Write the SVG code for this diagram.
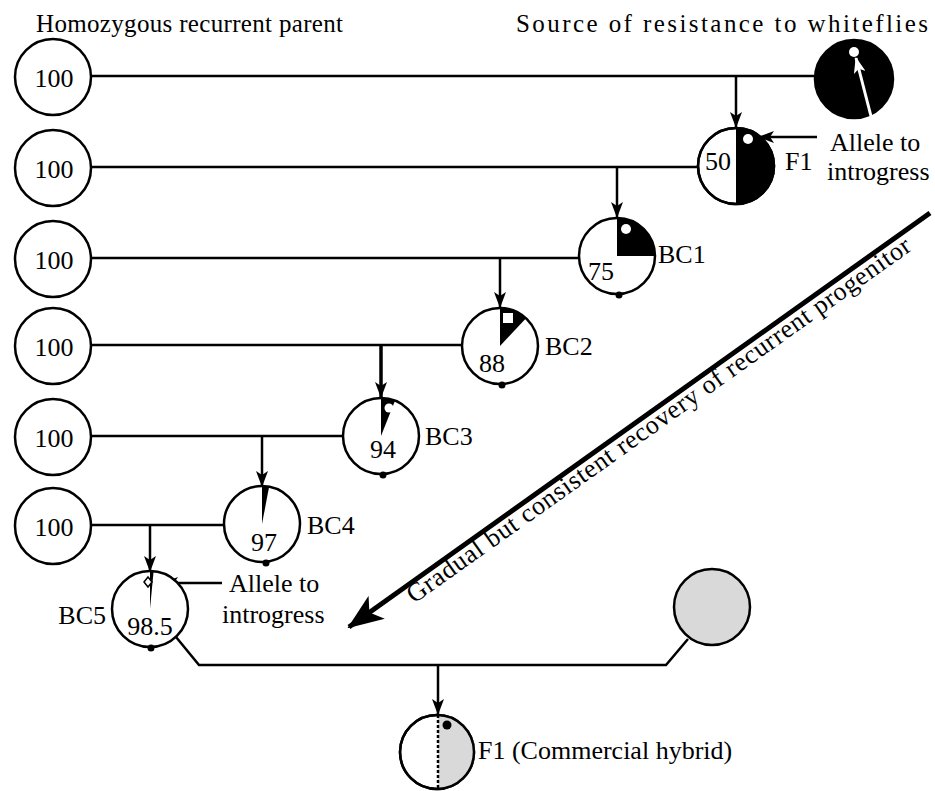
<svg xmlns="http://www.w3.org/2000/svg" width="935" height="791" viewBox="0 0 935 791" font-family="'Liberation Serif','Times New Roman',serif">
<style>
text{font-family:"Liberation Serif","Times New Roman",serif;font-size:26px;fill:#000}
.hdr{font-size:25px}
.c{fill:#fff;stroke:#000;stroke-width:2.5}
.blk{fill:#000}
.ln{fill:none;stroke:#000;stroke-width:2.5}
.arr{fill:none;stroke:#000;stroke-width:2.5;marker-end:url(#ah)}
.mid{text-anchor:middle}
.grey{fill:#d9d9d9}
</style>
<defs>
<marker id="ah" markerUnits="userSpaceOnUse" markerWidth="16" markerHeight="12" refX="15" refY="6" orient="auto">
<path d="M0,0 L16,6 L0,12 L4,6 Z" fill="#000"/>
</marker>
<marker id="ahw" markerUnits="userSpaceOnUse" markerWidth="16" markerHeight="12" refX="15" refY="6" orient="auto">
<path d="M0,0 L16,6 L0,12 L4,6 Z" fill="#fff"/>
</marker>
<marker id="ahb" markerUnits="userSpaceOnUse" markerWidth="36" markerHeight="28" refX="34" refY="14" orient="auto">
<path d="M0,0 L36,14 L0,28 L9,14 Z" fill="#000"/>
</marker>
</defs>

<text class="hdr" x="36" y="32" textLength="307" lengthAdjust="spacing">Homozygous recurrent parent</text>
<text class="hdr" x="516" y="32" textLength="412" lengthAdjust="spacing">Source of resistance to whiteflies</text>

<g id="connectors">
<line class="ln" x1="91" y1="76" x2="815" y2="76"/>
<line class="arr" x1="736" y1="76" x2="736" y2="127"/>
<line class="ln" x1="91" y1="167" x2="698" y2="167"/>
<line class="arr" x1="617" y1="167" x2="617" y2="217"/>
<line class="ln" x1="91" y1="258" x2="579" y2="258"/>
<line class="arr" x1="500" y1="258" x2="500" y2="307"/>
<line class="ln" x1="91" y1="345" x2="462" y2="345"/>
<line class="arr" x1="381" y1="345" x2="381" y2="397" style="stroke-width:3.5"/>
<line class="ln" x1="91" y1="436" x2="343" y2="436"/>
<line class="arr" x1="262" y1="436" x2="262" y2="486"/>
<line class="ln" x1="91" y1="525" x2="224" y2="525"/>
<line class="arr" x1="150" y1="525" x2="150" y2="571"/>
<polyline class="ln" points="176,637 199,665 666,665 688,639"/>
<line class="arr" x1="438" y1="665" x2="438" y2="714"/>
<line class="arr" x1="817" y1="137" x2="759" y2="137"/>
<line class="arr" x1="222" y1="583" x2="163" y2="583"/>
<line x1="930" y1="213" x2="349" y2="627" stroke="#000" stroke-width="5" marker-end="url(#ahb)"/>
</g>

<text x="0" y="0" transform="translate(414,604) rotate(-35.4)" textLength="612" lengthAdjust="spacing">Gradual but consistent recovery of recurrent progenitor</text>

<g id="parent1"><circle class="c" cx="53" cy="77" r="38"/><text class="mid" x="54" y="87">100</text></g>
<g id="parent2"><circle class="c" cx="53" cy="168" r="38"/><text class="mid" x="54" y="178">100</text></g>
<g id="parent3"><circle class="c" cx="53" cy="259" r="38"/><text class="mid" x="54" y="269">100</text></g>
<g id="parent4"><circle class="c" cx="53" cy="346" r="38"/><text class="mid" x="54" y="356">100</text></g>
<g id="parent5"><circle class="c" cx="53" cy="437" r="38"/><text class="mid" x="54" y="447">100</text></g>
<g id="parent6"><circle class="c" cx="53" cy="526" r="38"/><text class="mid" x="54" y="536">100</text></g>

<g id="source">
<circle cx="854" cy="79" r="39" fill="#000" stroke="#000" stroke-width="2.5"/>
<circle cx="854" cy="52" r="5" fill="#fff"/>
<line x1="873" y1="124" x2="856" y2="58" stroke="#fff" stroke-width="3" marker-end="url(#ahw)"/>
<text x="830" y="151">Allele to</text>
<text x="827" y="180">introgress</text>
</g>

<g id="F1">
<circle class="c" cx="736" cy="166" r="38"/>
<path class="blk" d="M736,128 A38,38 0 0 1 736,204 Z"/>
<circle cx="736" cy="166" r="38" fill="none" stroke="#000" stroke-width="2.5"/>
<circle cx="748" cy="139" r="5" fill="#fff"/>
<text class="mid" x="718" y="170">50</text>
<text x="785" y="170">F1</text>
</g>

<g id="BC1">
<circle class="c" cx="617" cy="256" r="38"/>
<path class="blk" d="M617,256 L617,218 A38,38 0 0 1 655,256 Z"/>
<circle cx="626" cy="229" r="5" fill="#fff"/>
<circle cx="619" cy="295" r="3.5" class="blk"/>
<text class="mid" x="601" y="280">75</text>
<text x="658" y="263">BC1</text>
</g>

<g id="BC2">
<circle class="c" cx="500" cy="346" r="38"/>
<path class="blk" d="M500,346 L500,308 A38,38 0 0 1 526,318.3 Z"/>
<rect x="503" y="313" width="10" height="10" fill="#fff"/>
<circle cx="502" cy="385" r="3.5" class="blk"/>
<text class="mid" x="492" y="372">88</text>
<text x="545" y="355">BC2</text>
</g>

<g id="BC3">
<circle class="c" cx="381" cy="436" r="38"/>
<path class="blk" d="M381,436 L381,398 A38,38 0 0 1 395,400.7 Z"/>
<circle cx="389" cy="408" r="4.5" fill="#fff"/>
<circle cx="383" cy="475" r="3.5" class="blk"/>
<text class="mid" x="383" y="458">94</text>
<text x="425" y="445">BC3</text>
</g>

<g id="BC4">
<circle class="c" cx="262" cy="524" r="38"/>
<path class="blk" d="M262,524 L262,486 A38,38 0 0 1 269.1,486.7 Z"/>
<circle cx="266" cy="563" r="3.5" class="blk"/>
<text class="mid" x="264" y="551">97</text>
<text x="307" y="534">BC4</text>
</g>

<g id="BC5">
<circle class="c" cx="150" cy="609" r="38"/>
<path class="blk" d="M150,609 L150,571 A38,38 0 0 1 153.6,571.2 Z"/>
<path d="M148,577 L152,582 L148,587 L144,582 Z" fill="#fff" stroke="#000" stroke-width="1.5"/>
<circle cx="151" cy="648" r="3.5" class="blk"/>
<text class="mid" x="150" y="635">98.5</text>
<text x="106" y="624" text-anchor="end">BC5</text>
<text x="229" y="592">Allele to</text>
<text x="222" y="623">introgress</text>
</g>

<g id="grey-parent">
<circle cx="712" cy="607" r="38" fill="#d9d9d9" stroke="#000" stroke-width="2.5"/>
</g>

<g id="F1-hybrid">
<circle class="c" cx="437" cy="752" r="37"/>
<path class="grey" d="M438,715 A37,37 0 0 1 438,789 Z"/>
<circle cx="437" cy="752" r="37" fill="none" stroke="#000" stroke-width="2.5"/>
<line x1="438" y1="715" x2="438" y2="789" stroke="#000" stroke-width="2.5" stroke-dasharray="3,2"/>
<circle cx="447" cy="725" r="4.5" class="blk"/>
<text x="478" y="759">F1 (Commercial hybrid)</text>
</g>
</svg>
